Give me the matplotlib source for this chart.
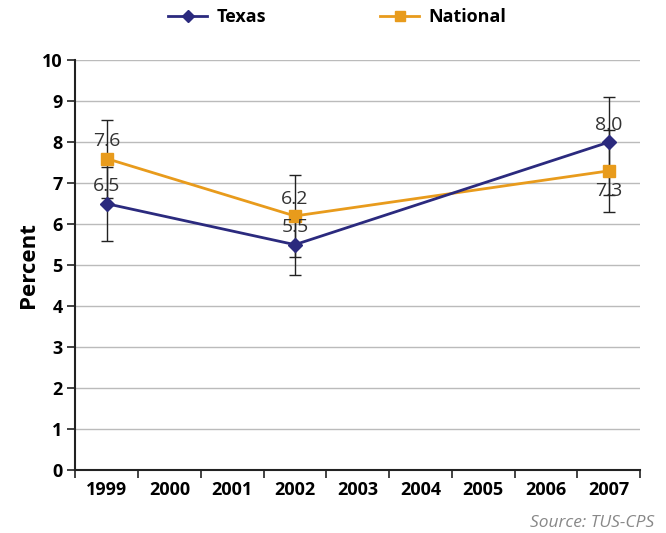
import matplotlib
matplotlib.use("Agg")
import matplotlib.pyplot as plt
import numpy as np

plt.rcParams["font.family"] = ["Open Sans", "DejaVu Sans"]

years = ["1999", "2000", "2001", "2002", "2003", "2004", "2005", "2006", "2007"]
data_years = ["1999", "2002", "2007"]
texas = [6.5, 5.5, 8.0]
national = [7.6, 6.2, 7.3]
texas_err_low = [0.9, 0.75, 1.3]
texas_err_high = [0.9, 0.75, 1.1]
national_err_low = [0.95, 1.0, 1.0]
national_err_high = [0.95, 1.0, 1.0]
texas_labels = ["6.5", "5.5", "8.0"]
national_labels = ["7.6", "6.2", "7.3"]

navy = "#2b2a7e"
orange = "#e89b1c"

fig = plt.figure(figsize=(6.66, 5.33), dpi=100)
ax = fig.add_axes([0.113, 0.118, 0.848, 0.769])

x = [years.index(y) for y in data_years]

ax.errorbar(x, texas, yerr=[texas_err_low, texas_err_high], fmt="none",
            ecolor="#222222", elinewidth=1, capsize=4, capthick=1, zorder=2)
ax.errorbar(x, national, yerr=[national_err_low, national_err_high], fmt="none",
            ecolor="#222222", elinewidth=1, capsize=4, capthick=1, zorder=2)

ax.plot(x, national, color=orange, lw=2, marker="s", ms=8, label="National", zorder=3)
ax.plot(x, texas, color=navy, lw=2, marker="D", ms=7, label="Texas", zorder=4)

for xi, v, lab in zip(x, texas, texas_labels):
    ax.annotate(lab, (xi, v), xytext=(0, 6), textcoords="offset points",
                ha="center", va="bottom", fontsize=14, color="#333333")
offs = [6, 6, -8]
for xi, v, lab, o in zip(x, national, national_labels, offs):
    ax.annotate(lab, (xi, v), xytext=(0, o), textcoords="offset points",
                ha="center", va="bottom" if o > 0 else "top", fontsize=14, color="#333333")

ax.set_xlim(-0.5, len(years) - 0.5)
ax.set_ylim(0, 10)
ax.set_yticks(range(0, 11))
ax.set_xticks(range(len(years)))
ax.set_xticklabels(years, fontweight="bold", fontsize=13)
ax.set_xticks(np.arange(-0.5, len(years), 1), minor=True)
ax.tick_params(axis="x", which="major", length=0, pad=8)
ax.tick_params(axis="x", which="minor", length=6, width=1.2, color="#222222")
ax.tick_params(axis="y", length=6, width=1.2, color="#222222", labelsize=13, pad=3)
for lab in ax.get_yticklabels():
    lab.set_fontweight("bold")
ax.grid(axis="y", color="#bbbbbb", lw=1)
ax.set_axisbelow(True)
for s in ["top", "right"]:
    ax.spines[s].set_visible(False)
for s in ["left", "bottom"]:
    ax.spines[s].set_color("#222222")
    ax.spines[s].set_linewidth(1.5)
ax.set_ylabel("Percent", fontsize=16, fontweight="bold", labelpad=2)

h, l = ax.get_legend_handles_labels()
fig.legend([h[1], h[0]], [l[1], l[0]], loc="upper center", bbox_to_anchor=(0.506, 1.015),
           ncol=2, frameon=False, prop={"weight": "bold", "size": 13},
           columnspacing=6.3, handlelength=2.2, handletextpad=0.5, markerscale=0.9)

fig.text(0.982, 0.004, "Source: TUS-CPS", ha="right", va="bottom",
         fontsize=12.5, style="italic", color="#888888")

fig.savefig("out.png", dpi=100)
